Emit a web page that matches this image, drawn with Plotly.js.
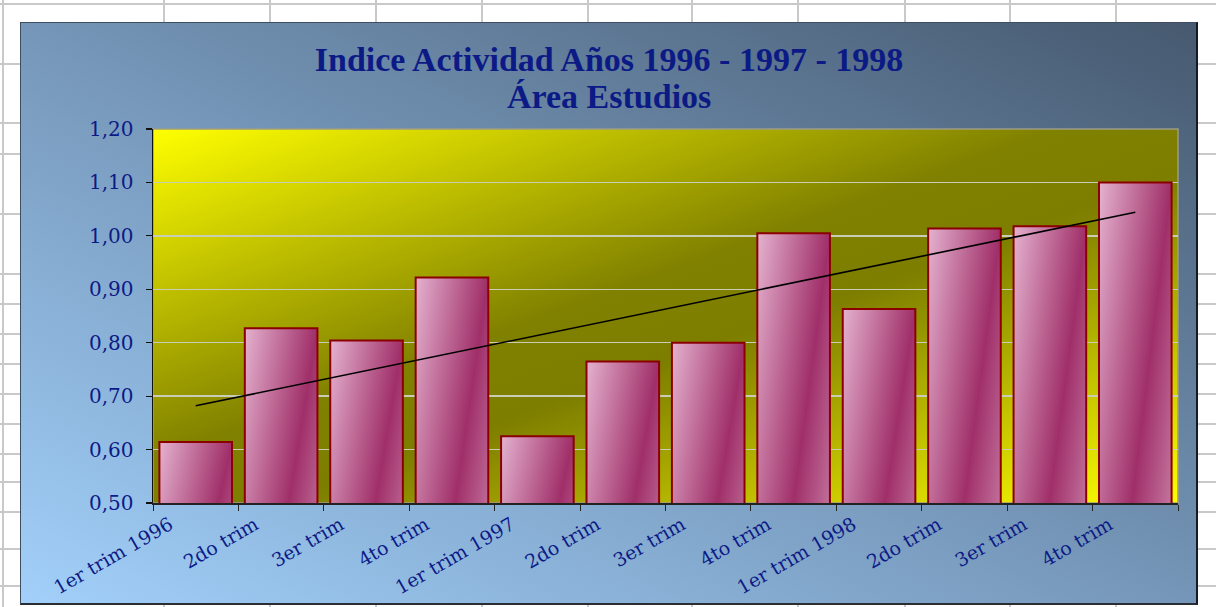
<!DOCTYPE html>
<html>
<head>
<meta charset="utf-8">
<script src="https://cdn.plot.ly/plotly-3.0.1.min.js"></script>
<style>
  html, body { margin:0; padding:0; }
  body { width:1216px; height:607px; overflow:hidden; background:#ffffff; position:relative; }
  .hl { position:absolute; left:0; width:1216px; height:2px; background:#c9c9c9; }
  .vl { position:absolute; top:0; width:2px; height:607px; background:#c9c9c9; }
  #chartbg { position:absolute; left:20px; top:22px; width:1178px; height:583px; box-sizing:border-box;
    background:linear-gradient(to top right, #a2d0fa 0%, #7596b8 50%, #46596f 100%);
    border-top:1px solid #3e4e60; border-left:1px solid #3e4e60; border-right:2px solid #151b24; border-bottom:2px solid #2a2e33; }
  #plotbg { position:absolute; left:153px; top:129px; width:1025px; height:374px;
    background:linear-gradient(to bottom right, #ffff00 0%, #818100 44%, #7d7d00 56%, #ffff00 100%); }
  #chart { position:absolute; left:0; top:0; width:1216px; height:607px; }
</style>
</head>
<body>
<div id="sheet"></div>
<div id="chartbg"></div>
<div id="plotbg"></div>
<div id="chart"></div>
<script>
// ---- data ----
const categories = ['1er trim 1996','2do trim','3er trim','4to trim','1er trim 1997','2do trim','3er trim','4to trim','1er trim 1998','2do trim','3er trim','4to trim'];
const indexValues = [0.614, 0.827, 0.804, 0.922, 0.625, 0.765, 0.800, 1.005, 0.863, 1.014, 1.018, 1.100];
const titleLine1 = 'Indice Actividad Años 1996 - 1997 - 1998';
const titleLine2 = 'Área Estudios';

// ---- spreadsheet grid decoration (background only) ----
const sheetRows = [4, 64, 123, 154, 214, 274, 304, 334, 364, 394, 424, 454, 482, 512, 549, 586];
const sheetCols = [3, 164, 270, 376, 482, 588, 692, 798, 905, 1010, 1116];
const sheet = document.getElementById('sheet');
sheetRows.forEach(function (r) { const d = document.createElement('div'); d.className = 'hl'; d.style.top = (r - 1) + 'px'; sheet.appendChild(d); });
sheetCols.forEach(function (c) { const d = document.createElement('div'); d.className = 'vl'; d.style.left = (c - 1) + 'px'; sheet.appendChild(d); });

// ---- linear trendline (least squares on the bar values) ----
const xs = categories.map(function (_, i) { return i; });
const n = xs.length;
const mx = xs.reduce(function (a, b) { return a + b; }, 0) / n;
const my = indexValues.reduce(function (a, b) { return a + b; }, 0) / n;
let sxy = 0, sxx = 0;
for (let i = 0; i < n; i++) { sxy += (xs[i] - mx) * (indexValues[i] - my); sxx += (xs[i] - mx) * (xs[i] - mx); }
const slope = sxy / sxx, intercept = my - slope * mx;
const trendX = [xs[0], xs[n - 1]];
const trendY = trendX.map(function (x) { return intercept + slope * x; });

const navy = '#0c1a86';
const serif = 'DejaVu Serif';
const titleFont = { family:'Liberation Serif', size:34, color:navy, weight:'bold' };

const traces = [
  { type:'bar', x: xs, y: indexValues, marker: { color:'#b8588c', line: { color:'#8a0000', width:2 } }, hoverinfo:'skip' },
  { type:'scatter', mode:'lines', x: trendX, y: trendY, line: { color:'#000000', width:1.6 }, hoverinfo:'skip' }
];

const layout = {
  width:1216, height:607,
  margin: { l:153, r:38, t:129, b:104 },
  paper_bgcolor:'rgba(0,0,0,0)', plot_bgcolor:'rgba(0,0,0,0)',
  showlegend:false,
  separators:',.',
  bargap:0.15,
  title: { text: titleLine1, x: 609/1216, xanchor:'center', xref:'container',
           y: 1 - 59/607, yanchor:'middle', yref:'container', font: titleFont },
  annotations: [
    { text: titleLine2, xref:'paper', yref:'paper', x: (609-153)/1025, y: 1 + (129-96)/374,
      xanchor:'center', yanchor:'middle', showarrow:false, font: titleFont }
  ],
  xaxis: {
    range:[-0.5, n - 0.5], tickmode:'array', tickvals: xs, ticktext: categories,
    ticks:'', tickangle:-30, ticklabelshift:-26, ticklabelstandoff:2,
    tickfont: { family:serif, size:19, color:navy },
    showline:true, linecolor:'#222222', linewidth:1.5, showgrid:false, zeroline:false,
    minor: { tick0:-0.5, dtick:1, ticks:'outside', ticklen:6, tickcolor:'#222222', tickwidth:1, showgrid:false }
  },
  yaxis: {
    range:[0.5, 1.2], dtick:0.1, tick0:0.5, tickformat:'.2f',
    ticks:'outside', ticklen:6, tickcolor:'#111111', tickwidth:1.2,
    tickfont: { family:serif, size:20, color:navy }, ticklabelstandoff:8,
    showline:true, linecolor:'#111111', linewidth:1.5,
    showgrid:true, gridcolor:'#c9cdb6', gridwidth:1.5, zeroline:false
  },
  shapes: [
    { type:'rect', xref:'paper', yref:'paper', x0:0, x1:1, y0:0, y1:1, layer:'below', line: { color:'#9c9c86', width:1.5 } }
  ]
};

function applyBarGradient(gd) {
  const svg = gd.querySelector('svg.main-svg');
  if (!svg) return;
  let defs = svg.querySelector('defs');
  if (!defs) { defs = document.createElementNS('http://www.w3.org/2000/svg', 'defs'); svg.insertBefore(defs, svg.firstChild); }
  if (!svg.querySelector('#barGrad')) {
    const g = document.createElementNS('http://www.w3.org/2000/svg', 'linearGradient');
    g.setAttribute('id', 'barGrad');
    g.setAttribute('x1', '0'); g.setAttribute('y1', '0'); g.setAttribute('x2', '1'); g.setAttribute('y2', '1');
    [['0', '#e4b2cf'], ['0.5', '#a02f69'], ['1', '#e0aecb']].forEach(function (s) {
      const st = document.createElementNS('http://www.w3.org/2000/svg', 'stop');
      st.setAttribute('offset', s[0]); st.setAttribute('stop-color', s[1]);
      g.appendChild(st);
    });
    defs.appendChild(g);
  }
  gd.querySelectorAll('.barlayer .point path').forEach(function (p) { p.style.fill = 'url(#barGrad)'; });
}

const gd = document.getElementById('chart');
Plotly.newPlot(gd, traces, layout, { displayModeBar:false, staticPlot:true }).then(function () {
  applyBarGradient(gd);
  gd.on('plotly_afterplot', function () { applyBarGradient(gd); });
});
</script>
</body>
</html>
